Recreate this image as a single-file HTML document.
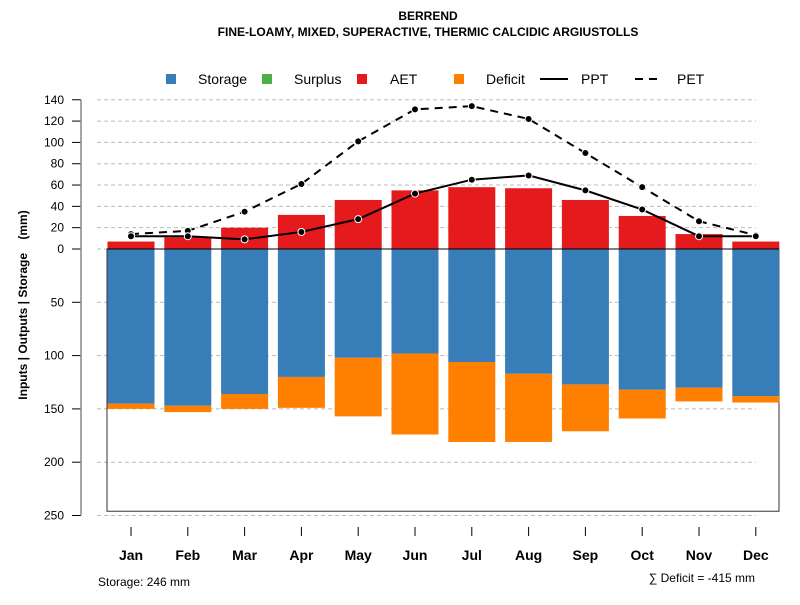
<!DOCTYPE html>
<html><head><meta charset="utf-8"><style>
body{margin:0;background:#fff;}
svg text{font-family:"Liberation Sans",sans-serif;}
</style></head><body>
<svg id="chart" width="800" height="600" xmlns="http://www.w3.org/2000/svg">
<rect width="800" height="600" fill="#fff"/>
<text x="428" y="20" text-anchor="middle" font-size="12" font-weight="bold">BERREND</text>
<text x="428" y="36" text-anchor="middle" font-size="12" font-weight="bold">FINE-LOAMY, MIXED, SUPERACTIVE, THERMIC CALCIDIC ARGIUSTOLLS</text>
<g font-size="14">
<rect x="166" y="74" width="10" height="10" fill="#377eb8"/>
<text x="198" y="84">Storage</text>
<rect x="262" y="74" width="10" height="10" fill="#4daf4a"/>
<text x="294" y="84">Surplus</text>
<rect x="357" y="74" width="10" height="10" fill="#e41a1c"/>
<text x="390" y="84">AET</text>
<rect x="454" y="74" width="10" height="10" fill="#ff7f00"/>
<text x="486" y="84">Deficit</text>
<line x1="540" y1="79" x2="568" y2="79" stroke="#000" stroke-width="2"/>
<text x="581" y="84">PPT</text>
<line x1="635" y1="79" x2="660" y2="79" stroke="#000" stroke-width="2" stroke-dasharray="8,6"/>
<text x="677" y="84">PET</text>
</g>
<text transform="translate(27,305) rotate(-90)" text-anchor="middle" font-size="12" font-weight="bold">Inputs | Outputs | Storage&#160;&#160;&#160;&#160;(mm)</text>
<g id="grid"></g><g id="bars"></g><g id="lines"></g><g id="axes"></g>
<text x="98" y="586" font-size="12">Storage: 246 mm</text>
<text x="755" y="582" text-anchor="end" font-size="12">∑ Deficit = -415 mm</text>
</svg>
<script>
const months=["Jan","Feb","Mar","Apr","May","Jun","Jul","Aug","Sep","Oct","Nov","Dec"];
const aet=[7,11,20,32,46,55,58,57,46,31,14,7];
const storage=[145,147,136,120,102,98,106,117,127,132,130,138];
const deficit=[5,6,14,29,55,76,75,64,44,27,13,6];
const ppt=[12,12,9,16,28,52,65,69,55,37,12,12];
const pet=[14,17,35,61,101,131,134,122,90,58,26,13];
const upTicks=[0,20,40,60,80,100,120,140];
const downTicks=[50,100,150,200,250];
const storageMax=246;
const NS="http://www.w3.org/2000/svg";
const y0=249, k=1.066;
function yUp(v){return y0-v*k;}
function yDown(v){return y0+v*k;}
function xC(i){return 131+i*56.8;}
const bw=47;
function mk(tag,attrs,parent){const e=document.createElementNS(NS,tag);for(const a in attrs)e.setAttribute(a,attrs[a]);document.getElementById(parent).appendChild(e);return e;}
upTicks.forEach(t=>{
 const g=mk('line',{x1:97,x2:756,y1:yUp(t),y2:yUp(t),stroke:'#bbb','stroke-dasharray':'4,3'},'grid');
 
 
 const tk=mk('line',{x1:72,x2:81,y1:yUp(t),y2:yUp(t),stroke:'#000'},'axes');
 
 
 const tx=mk('text',{x:64,y:yUp(t)+4,'text-anchor':'end','font-size':12},'axes');tx.textContent=t;
 
 
});
downTicks.forEach(t=>{
 const g=mk('line',{x1:97,x2:756,y1:yDown(t),y2:yDown(t),stroke:'#bbb','stroke-dasharray':'4,3'},'grid');
 
 
 const tk=mk('line',{x1:72,x2:81,y1:yDown(t),y2:yDown(t),stroke:'#000'},'axes');
 
 
 const tx=mk('text',{x:64,y:yDown(t)+4,'text-anchor':'end','font-size':12},'axes');tx.textContent=t;
 
 
});
const ax=mk('line',{x1:81,x2:81,y1:yUp(140),y2:yDown(250),stroke:'#888','stroke-width':1.5},'axes');


const box=mk('rect',{x:107,y:y0,width:672,height:storageMax*k,fill:'none',stroke:'#333'},'bars');


months.forEach((m,i)=>{
 const x=xC(i)-bw/2;
 const d=mk('rect',{x:x,y:yDown(storage[i]),width:bw,height:deficit[i]*k,fill:'#ff7f00'},'bars');
 
 
 const s=mk('rect',{x:x,y:y0,width:bw,height:storage[i]*k,fill:'#377eb8'},'bars');
 
 
 const a=mk('rect',{x:x,y:yUp(aet[i]),width:bw,height:aet[i]*k,fill:'#e41a1c'},'bars');
 
 
 const tk=mk('line',{x1:xC(i),x2:xC(i),y1:527,y2:536,stroke:'#000'},'axes');
 
 
 const tx=mk('text',{x:xC(i),y:560,'text-anchor':'middle','font-size':14,'font-weight':'bold'},'axes');tx.textContent=m;
 
 
});
const zl=mk('line',{x1:107,x2:779,y1:y0,y2:y0,stroke:'#000'},'bars');


function series(vals,name,dash){
 const p=mk('polyline',{points:vals.map((v,i)=>xC(i)+','+yUp(v)).join(' '),fill:'none',stroke:'#000','stroke-width':2,'stroke-dasharray':dash},'lines');
 
 
 vals.forEach((v,i)=>{
  const c=mk('circle',{cx:xC(i),cy:yUp(v),r:3.5,fill:'#000',stroke:'#fff','stroke-width':1},'lines');
  
  
 });
}
series(pet,'pet','8,6');
series(ppt,'ppt','none');
</script>
</body></html>
